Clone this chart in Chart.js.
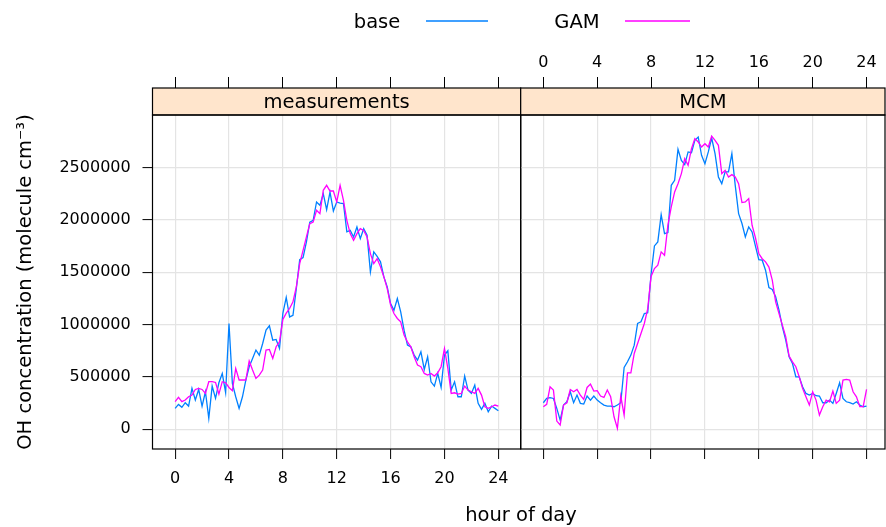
<!DOCTYPE html>
<html>
<head>
<meta charset="utf-8">
<title>OH concentration by hour of day</title>
<script src="https://cdn.jsdelivr.net/npm/chart.js@4.4.1/dist/chart.umd.min.js"></script>
<style>
  html, body { margin: 0; padding: 0; background: #fff; overflow: hidden; }
  #wrap { position: relative; width: 886px; height: 527px; }
  #wrap canvas { position: absolute; left: 0; top: 0; }
</style>
</head>
<body>
<div id="wrap">
  <canvas id="meas" width="886" height="527"></canvas>
  <canvas id="mcm" width="886" height="527"></canvas>
</div>
<script>
// 15-minute steps over the day
const hours = Array.from({ length: 97 }, (_, i) => i / 4);
const xTicks = [0, 4, 8, 12, 16, 20, 24];
const yTicks = [0, 500000, 1000000, 1500000, 2000000, 2500000];
const seriesNames = ['base', 'GAM'];
const panelNames = ['measurements', 'MCM'];

const measBase = [
  200000, 238000, 210000, 254000, 222000, 391000, 280000, 381000, 222000, 359000,
  105000, 413000, 296000, 445000, 534000, 350000, 1011000, 439000, 311000, 200000,
  311000, 470000, 598000, 677000, 757000, 709000, 820000, 948000, 989000, 852000,
  859000, 773000, 1107000, 1260000, 1074000, 1090000, 1345000, 1621000, 1640000, 1790000,
  1980000, 1997000, 2172000, 2140000, 2251000, 2099000, 2267000, 2086000, 2172000, 2162000,
  2156000, 1886000, 1900000, 1838000, 1933000, 1822000, 1917000, 1854000, 1504000, 1695000,
  1653000, 1600000, 1456000, 1361000, 1202000, 1138000, 1250000, 1122000, 947000, 804000,
  788000, 709000, 661000, 741000, 572000, 693000, 454000, 413000, 534000, 400000,
  709000, 750000, 375000, 454000, 311000, 311000, 509000, 375000, 343000, 423000,
  248000, 190000, 248000, 168000, 222000, 200000, 178000
];
const measGam = [
  264000, 305000, 264000, 280000, 312000, 328000, 381000, 391000, 381000, 343000,
  455000, 455000, 448000, 337000, 455000, 445000, 400000, 369000, 582000, 471000,
  471000, 471000, 652000, 566000, 486000, 518000, 566000, 757000, 763000, 677000,
  789000, 836000, 1050000, 1110000, 1154000, 1218000, 1360000, 1583000, 1710000, 1838000,
  1965000, 1980000, 2092000, 2060000, 2283000, 2331000, 2277000, 2277000, 2172000, 2331000,
  2188000, 1997000, 1870000, 1806000, 1870000, 1917000, 1900000, 1838000, 1679000, 1583000,
  1630000, 1552000, 1456000, 1345000, 1186000, 1106000, 1059000, 1027000, 900000, 836000,
  788000, 693000, 614000, 598000, 534000, 518000, 534000, 509000, 540000, 598000,
  772000, 582000, 343000, 349000, 337000, 343000, 413000, 375000, 359000, 343000,
  391000, 327000, 216000, 200000, 216000, 232000, 222000
];
const mcmBase = [
  254000, 295000, 302000, 295000, 200000, 88000, 232000, 263000, 359000, 254000,
  327000, 248000, 241000, 318000, 279000, 318000, 279000, 254000, 232000, 222000,
  222000, 216000, 232000, 254000, 591000, 645000, 709000, 804000, 1011000, 1027000,
  1106000, 1113000, 1480000, 1752000, 1791000, 2051000, 1870000, 1880000, 2331000, 2379000,
  2675000, 2570000, 2529000, 2650000, 2643000, 2761000, 2793000, 2618000, 2538000, 2650000,
  2783000, 2634000, 2411000, 2347000, 2459000, 2459000, 2634000, 2331000, 2061000, 1966000,
  1838000, 1934000, 1886000, 1750000, 1620000, 1616000, 1520000, 1355000, 1336000, 1266000,
  1138000, 979000, 852000, 693000, 629000, 502000, 502000, 407000, 343000, 327000,
  343000, 321000, 318000, 254000, 254000, 279000, 248000, 343000, 445000, 295000,
  263000, 254000, 241000, 263000, 232000, 216000, 222000
];
const mcmGam = [
  216000, 238000, 406000, 375000, 79000, 41000, 232000, 254000, 381000, 359000,
  381000, 327000, 286000, 400000, 432000, 365000, 369000, 318000, 305000, 375000,
  311000, 120000, 9000, 318000, 136000, 540000, 540000, 725000, 820000, 916000,
  1011000, 1150000, 1460000, 1536000, 1568000, 1695000, 1663000, 1950000, 2125000, 2268000,
  2347000, 2443000, 2586000, 2522000, 2681000, 2777000, 2745000, 2697000, 2729000, 2697000,
  2802000, 2761000, 2713000, 2443000, 2475000, 2411000, 2433000, 2411000, 2347000, 2166000,
  2172000, 2204000, 1950000, 1830000, 1680000, 1630000, 1600000, 1550000, 1425000, 1218000,
  1106000, 995000, 884000, 700000, 645000, 598000, 502000, 391000, 311000, 232000,
  359000, 279000, 136000, 216000, 279000, 263000, 365000, 248000, 279000, 470000,
  477000, 470000, 359000, 311000, 216000, 216000, 381000
];

const baseColor = '#0080ff';
const gamColor = '#ff00ff';
const gridColor = '#e4e4e4';
const FONT = "'DejaVu Sans', sans-serif";

Chart.defaults.font.family = FONT;
Chart.defaults.color = '#000';

// strip above each panel + black frame around it
const panelDecor = {
  id: 'panelDecor',
  afterDraw(chart, args, opts) {
    const { ctx, chartArea: a } = chart;
    const stripTop = 88;
    ctx.save();
    ctx.fillStyle = '#ffe5cc';
    ctx.fillRect(a.left, stripTop, a.right - a.left, a.top - stripTop);
    ctx.strokeStyle = '#000';
    ctx.lineWidth = 1.2;
    ctx.strokeRect(a.left, stripTop, a.right - a.left, a.top - stripTop);
    ctx.fillStyle = '#000';
    ctx.font = '19.5px ' + FONT;
    ctx.textAlign = 'center';
    ctx.textBaseline = 'middle';
    ctx.fillText(opts.strip, (a.left + a.right) / 2, 102.5);
    ctx.strokeRect(a.left, a.top, a.right - a.left, a.bottom - a.top);
    ctx.restore();
  }
};

// legend on top and x title, centred over both panels
const outerText = {
  id: 'outerText',
  afterDraw(chart, args, opts) {
    if (!opts.show) return;
    const { ctx } = chart;
    const ds = chart.data.datasets;
    ctx.save();
    ctx.fillStyle = '#000';
    ctx.font = '19.5px ' + FONT;
    ctx.textAlign = 'center';
    ctx.textBaseline = 'middle';
    ctx.fillText(ds[0].label, 377, 23);
    ctx.fillText(ds[1].label, 577, 23);
    ctx.lineWidth = 1.3;
    ctx.strokeStyle = ds[0].borderColor;
    ctx.beginPath(); ctx.moveTo(426, 21); ctx.lineTo(488, 21); ctx.stroke();
    ctx.strokeStyle = ds[1].borderColor;
    ctx.beginPath(); ctx.moveTo(625, 21); ctx.lineTo(690, 21); ctx.stroke();
    ctx.fillText('hour of day', 521, 516);
    ctx.restore();
  }
};

function points(values) {
  return hours.map((h, i) => ({ x: h, y: values[i] }));
}

function makePanel(id, base, gam, cfg) {
  return new Chart(document.getElementById(id), {
    type: 'line',
    data: {
      datasets: [
        { label: seriesNames[0], data: points(base), borderColor: baseColor, borderWidth: 1.3, pointRadius: 0, order: 2 },
        { label: seriesNames[1], data: points(gam), borderColor: gamColor, borderWidth: 1.3, pointRadius: 0, order: 1 }
      ]
    },
    options: {
      responsive: false,
      animation: false,
      layout: { padding: cfg.padding },
      plugins: {
        legend: { display: false },
        tooltip: { enabled: false },
        panelDecor: { strip: cfg.strip },
        outerText: { show: cfg.outer }
      },
      scales: {
        x: {
          type: 'linear', position: 'bottom', min: -1.68, max: cfg.xmax,
          afterBuildTicks: s => { s.ticks = xTicks.map(v => ({ value: v })); },
          afterFit: s => { s.height = 78; },
          grid: { color: gridColor, lineWidth: 1.2, tickColor: '#000', tickLength: 10, tickWidth: 1 },
          border: { display: false },
          ticks: { display: cfg.bottomLabels, padding: 10.4, font: { size: 16 }, maxRotation: 0, autoSkip: false, callback: v => String(v) }
        },
        xTop: {
          type: 'linear', position: 'top', min: -1.68, max: cfg.xmax,
          afterBuildTicks: s => { s.ticks = xTicks.map(v => ({ value: v })); },
          afterFit: s => { s.height = 115; },
          grid: { drawOnChartArea: false, tickColor: '#000', tickLength: 38, tickWidth: 1 },
          border: { display: false },
          ticks: { display: cfg.topLabels, padding: 4.2, font: { size: 16 }, maxRotation: 0, autoSkip: false, callback: v => String(v) }
        },
        y: {
          type: 'linear', position: 'left', min: -188000, max: 3003000,
          afterBuildTicks: s => { s.ticks = yTicks.map(v => ({ value: v })); },
          afterFit: s => { s.width = cfg.yWidth; },
          grid: { color: gridColor, lineWidth: 1.2, tickColor: '#000', tickLength: 10, tickWidth: 1, drawTicks: cfg.yLabels },
          border: { display: false },
          ticks: { display: cfg.yLabels, padding: 11.8, font: { size: 16 }, autoSkip: false, callback: v => String(v) },
          title: {
            display: cfg.yLabels,
            text: 'OH concentration (molecule cm\u207B\u00B3)',
            font: { size: 19.5 },
            padding: { top: 14.3, bottom: 0 }
          }
        }
      }
    },
    plugins: [panelDecor, outerText]
  });
}

makePanel('meas', measBase, measGam, {
  strip: panelNames[0], outer: true,
  padding: { left: 0, right: 365.3, top: 0, bottom: 0 },
  xmax: 25.66, yWidth: 152.5,
  yLabels: true, bottomLabels: true, topLabels: false
});

makePanel('mcm', mcmBase, mcmGam, {
  strip: panelNames[1], outer: false,
  padding: { left: 520.7, right: 1, top: 0, bottom: 0 },
  xmax: 25.37, yWidth: 0,
  yLabels: false, bottomLabels: false, topLabels: true
});
</script>
</body>
</html>
